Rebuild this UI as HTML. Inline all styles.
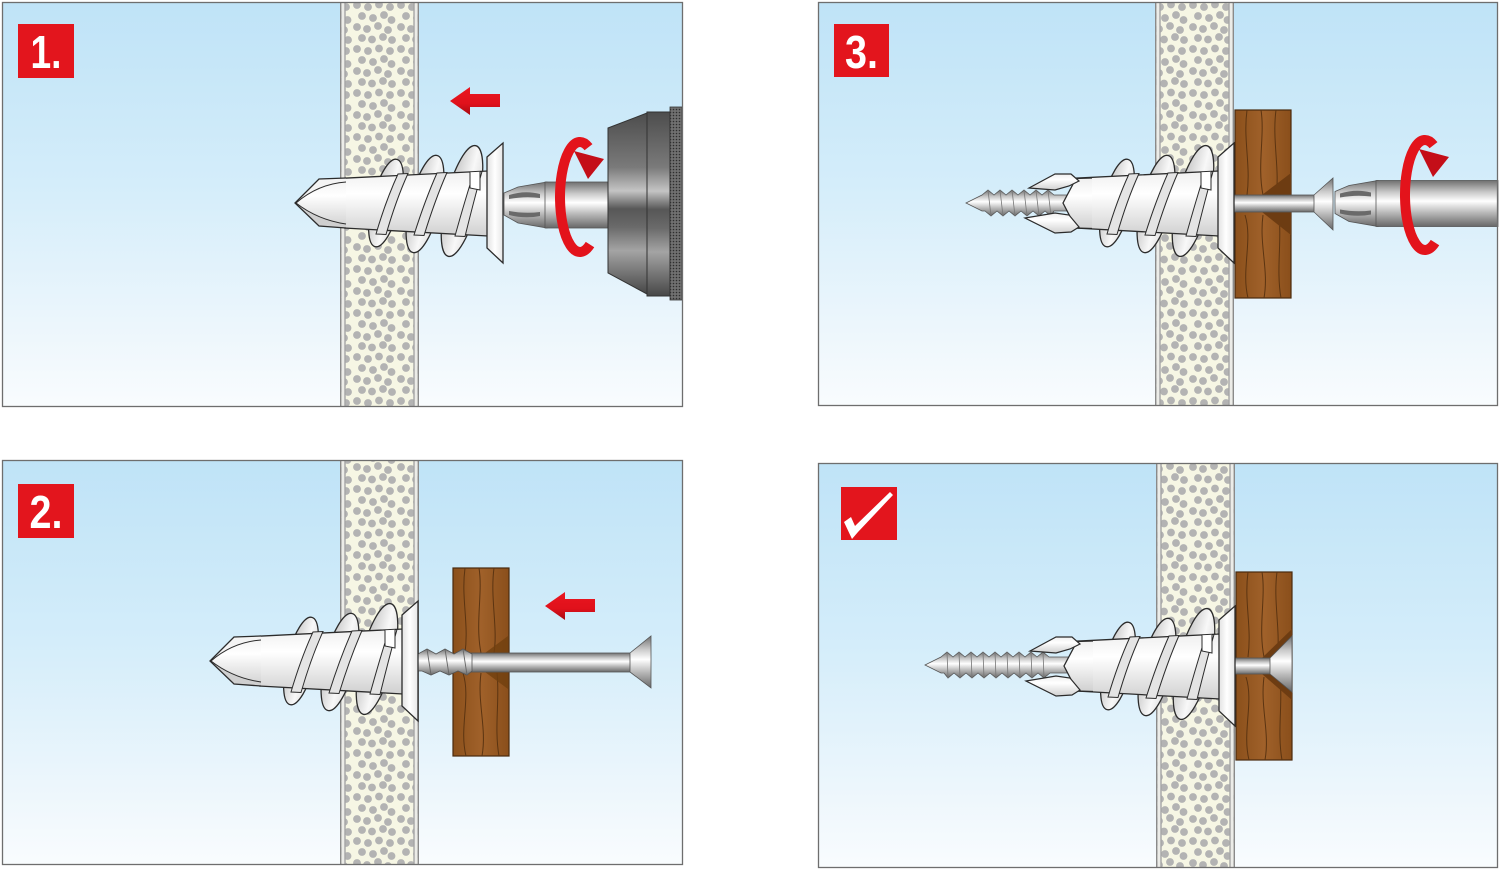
<!DOCTYPE html>
<html><head><meta charset="utf-8"><style>html,body{margin:0;padding:0;background:#fff;width:1500px;height:870px;overflow:hidden}svg{display:block}</style></head>
<body>
<svg width="1500" height="870" viewBox="0 0 1500 870" xmlns="http://www.w3.org/2000/svg" xmlns:xlink="http://www.w3.org/1999/xlink">
<defs>
<linearGradient id="bg" x1="0" y1="0" x2="0" y2="1"><stop offset="0" stop-color="#bfe3f7"/><stop offset="0.45" stop-color="#d4edfa"/><stop offset="0.8" stop-color="#ecf6fc"/><stop offset="1" stop-color="#f9fcfe"/></linearGradient>
<pattern id="dots" width="44" height="44" patternUnits="userSpaceOnUse"><rect width="44" height="44" fill="#f6f6e4"/><g fill="#b3b3b3"><circle cx="5" cy="5" r="3.9"/><circle cx="16" cy="7" r="3.9"/><circle cx="27" cy="4.5" r="3.9"/><circle cx="38" cy="7" r="3.9"/><circle cx="10" cy="16" r="3.9"/><circle cx="21" cy="18" r="3.9"/><circle cx="32" cy="15" r="3.9"/><circle cx="39.5" cy="20" r="3.9"/><circle cx="5" cy="27" r="3.9"/><circle cx="15" cy="29" r="3.9"/><circle cx="26" cy="26" r="3.9"/><circle cx="36" cy="30" r="3.9"/><circle cx="10" cy="38" r="3.9"/><circle cx="20" cy="39.5" r="3.9"/><circle cx="31" cy="37" r="3.9"/><circle cx="40" cy="40" r="3.9"/></g></pattern>
<pattern id="knurl" width="3" height="3" patternUnits="userSpaceOnUse"><rect width="3" height="3" fill="#707070"/><circle cx="1.5" cy="1.5" r="0.8" fill="#2e2e2e"/></pattern>
<linearGradient id="metal" x1="0" y1="0" x2="0" y2="1"><stop offset="0" stop-color="#707070"/><stop offset="0.25" stop-color="#c8c8c8"/><stop offset="0.45" stop-color="#ffffff"/><stop offset="0.7" stop-color="#b8b8b8"/><stop offset="1" stop-color="#686868"/></linearGradient>
<linearGradient id="chuck" x1="0" y1="0" x2="0" y2="1"><stop offset="0" stop-color="#4d4d4d"/><stop offset="0.3" stop-color="#7a7a7a"/><stop offset="0.43" stop-color="#c4c4c4"/><stop offset="0.53" stop-color="#575757"/><stop offset="0.63" stop-color="#6a6a6a"/><stop offset="0.76" stop-color="#a4a4a4"/><stop offset="1" stop-color="#474747"/></linearGradient>
<linearGradient id="pl" x1="0" y1="0" x2="0" y2="1"><stop offset="0" stop-color="#efefef"/><stop offset="0.35" stop-color="#ffffff"/><stop offset="1" stop-color="#d0d0d0"/></linearGradient>
<linearGradient id="pl2" x1="0" y1="0" x2="1" y2="0"><stop offset="0" stop-color="#e2e2e2"/><stop offset="0.5" stop-color="#ffffff"/><stop offset="1" stop-color="#e6e6e6"/></linearGradient>
<linearGradient id="dk" x1="0" y1="0" x2="1" y2="0"><stop offset="0" stop-color="#c6c6c6"/><stop offset="0.6" stop-color="#f8f8f8"/><stop offset="1" stop-color="#dedede"/></linearGradient>
<linearGradient id="wd" x1="0" y1="0" x2="1" y2="0"><stop offset="0" stop-color="#8b501b"/><stop offset="0.5" stop-color="#a0612a"/><stop offset="1" stop-color="#8a4f1b"/></linearGradient>
<linearGradient id="rd" x1="0" y1="0" x2="0" y2="1"><stop offset="0" stop-color="#ea1620"/><stop offset="0.6" stop-color="#e0111b"/><stop offset="1" stop-color="#a50b13"/></linearGradient>

<g id="dback">
 <ellipse cx="386" cy="203" rx="14" ry="45" transform="rotate(14 386 203)" fill="url(#dk)" stroke="#2b2b2b" stroke-width="1.3"/>
 <ellipse cx="425" cy="204" rx="15" ry="50" transform="rotate(14 425 204)" fill="url(#dk)" stroke="#2b2b2b" stroke-width="1.3"/>
 <ellipse cx="462" cy="201" rx="16" ry="57" transform="rotate(14 462 201)" fill="url(#dk)" stroke="#2b2b2b" stroke-width="1.3"/>
 <path d="M344,178.2 L488,171 L488,236 L344,228 Z" fill="url(#pl)"/>
 <path d="M344,178.2 L488,171 M344,228 L488,236" fill="none" stroke="#2b2b2b" stroke-width="1.3"/>
 <path d="M398,174 Q386,200 376,234 L386,234.5 Q396,200 408,173.5 Z" fill="#e4e4e4" stroke="#2b2b2b" stroke-width="1"/>
 <path d="M437,173 Q425,200 414,235 L424,235.5 Q435,200 447,172.5 Z" fill="#e4e4e4" stroke="#2b2b2b" stroke-width="1"/>
 <path d="M474,172 Q465,200 455,236 L465,236.5 Q474,200 482,171.5 Z" fill="#e4e4e4" stroke="#2b2b2b" stroke-width="1"/>
 <path d="M470,172.3 L470,188 L480,190 L480,171.8" fill="#fff" stroke="#2b2b2b" stroke-width="1"/>
 <path d="M487,157 L503,143 L503,263 L487,248 Z" fill="url(#pl2)" stroke="#2b2b2b" stroke-width="1.3"/>
</g>
<g id="dtip">
 <path d="M346,178 L319,179 L295,203 L319,226 L346,228 Z" fill="url(#pl)"/>
 <path d="M319,179 L346,178 L346,182 Q318,184 296,203 Z" fill="#f4f4f4"/>
 <path d="M296,203 Q318,220 346,224 L346,228 L319,226 Z" fill="#cfcfcf"/>
 <path d="M346,178 L319,179 L295,203 L319,226 L346,228" fill="none" stroke="#2b2b2b" stroke-width="1.3"/>
 <path d="M296,203 Q318,184 346,182 M296,203 Q318,220 346,224" fill="none" stroke="#2b2b2b" stroke-width="1"/>
</g>
<g id="wood">
 <rect x="0" y="0" width="56" height="188" fill="url(#wd)" stroke="#4a2a0e" stroke-width="1.2"/>
 <g fill="none" stroke="#5b3411" stroke-width="1">
  <path d="M12,0 C8,30 16,55 12,85"/><path d="M26,0 C30,25 22,55 28,85"/><path d="M41,0 C37,30 45,60 41,85"/>
  <path d="M10,105 C18,130 6,160 13,188"/><path d="M28,105 C24,135 34,160 29,188"/><path d="M44,105 C47,130 41,160 46,188"/>
 </g>
</g>
<g id="bit">
 <polygon points="504,193 518,187 547,182 547,228 518,223 504,215" fill="url(#metal)" stroke="#555" stroke-width="0.8"/>
 <path d="M509,195 Q525,190 540,194 L540,198 Q525,196 509,199 Z" fill="#6a6a6a"/>
 <path d="M509,211 Q525,214 540,212 L540,216 Q525,219 509,215 Z" fill="#6a6a6a"/>
</g>
<g id="ring">
 <path d="M588.5,147.2 A20,55 0 1 0 590,244.6" fill="none" stroke="#e3131b" stroke-width="10"/>
 <polygon points="574,151 604,159 588,179" fill="#c40e18"/>
</g>
<g id="front3">
 <path d="M1092,178 L1076,178.5 L1063,203 L1076,228 L1092,228.5 Z" fill="url(#pl)"/>
 <path d="M1092,178 L1076,178.5 L1063,203 L1076,228 L1092,228.5" fill="none" stroke="#2b2b2b" stroke-width="1.3"/>
 <polygon points="1029,188 1055,174 1071,174 1079,181 1069,186 1055,190" fill="url(#pl)" stroke="#2b2b2b" stroke-width="1.2"/>
 <polygon points="1025,218 1055,213 1069,215 1079,227 1071,232 1055,233" fill="url(#pl)" stroke="#2b2b2b" stroke-width="1.2"/>
</g>
</defs>

<!-- PANEL 1 -->
<rect x="2.5" y="2.5" width="680" height="404" fill="url(#bg)"/>
<rect x="340" y="2.5" width="79" height="404" fill="url(#dots)"/>
<rect x="341.5" y="2.5" width="3" height="404" fill="#ecece8"/><rect x="414.5" y="2.5" width="3" height="404" fill="#ecece8"/>
<g stroke-width="1.4"><line x1="340.7" y1="2.5" x2="340.7" y2="406.5" stroke="#8a8a8a"/><line x1="345" y1="2.5" x2="345" y2="406.5" stroke="#a5a5a5"/><line x1="414" y1="2.5" x2="414" y2="406.5" stroke="#a5a5a5"/><line x1="418.3" y1="2.5" x2="418.3" y2="406.5" stroke="#8a8a8a"/></g>
<polygon points="450,101 470,87 470,94 500,94 500,107 470,107 470,115" fill="url(#rd)"/>
<use xlink:href="#dback"/><use xlink:href="#dtip"/>
<use xlink:href="#bit"/>
<rect x="545" y="182" width="65" height="46" fill="url(#metal)" stroke="#555" stroke-width="0.8"/>
<polygon points="608,128 647,113 647,294 608,273" fill="url(#chuck)" stroke="#333" stroke-width="1"/>
<rect x="647" y="112" width="23" height="184" fill="url(#chuck)" stroke="#333" stroke-width="1"/>
<rect x="670" y="107" width="12" height="193" fill="url(#knurl)" stroke="#333" stroke-width="0.8"/>
<use xlink:href="#ring"/>
<rect x="18" y="24" width="56" height="54" fill="#e3151d"/>
<text x="46" y="68" font-family="Liberation Sans, Arial, sans-serif" font-weight="bold" font-size="46" fill="#fff" text-anchor="middle" textLength="31" lengthAdjust="spacingAndGlyphs">1.</text>
<rect x="2.5" y="2.5" width="680" height="404" fill="none" stroke="#6e6e6e" stroke-width="1.3"/>

<!-- PANEL 3 -->
<rect x="818.5" y="2.5" width="679" height="403" fill="url(#bg)"/>
<rect x="1155" y="2.5" width="79" height="403" fill="url(#dots)"/>
<rect x="1156.5" y="2.5" width="3" height="403" fill="#ecece8"/><rect x="1229.5" y="2.5" width="3" height="403" fill="#ecece8"/>
<g stroke-width="1.4"><line x1="1155.7" y1="2.5" x2="1155.7" y2="405.5" stroke="#8a8a8a"/><line x1="1160" y1="2.5" x2="1160" y2="405.5" stroke="#a5a5a5"/><line x1="1229" y1="2.5" x2="1229" y2="405.5" stroke="#a5a5a5"/><line x1="1233.3" y1="2.5" x2="1233.3" y2="405.5" stroke="#8a8a8a"/></g>
<use xlink:href="#wood" transform="translate(1235,110)"/>
<polygon points="1262,195 1291,173 1291,235 1262,212" fill="#6d3c12"/>
<rect x="1234" y="195" width="82" height="17" fill="url(#metal)" stroke="#555" stroke-width="0.8"/>
<polygon points="1314,195 1333,178 1333,230 1314,212" fill="url(#metal)" stroke="#555" stroke-width="0.8"/>
<use xlink:href="#bit" transform="translate(831,-1.5)"/>
<rect x="1376" y="180.5" width="122" height="46" fill="url(#metal)" stroke="#555" stroke-width="0.8"/>
<path d="M966,203 L982,195 L988,190 L994,195 L1000,190 L1006,195 L1012,190 L1018,195 L1024,190 L1030,195 L1036,190 L1042,195 L1048,190 L1054,195 L1070,195 L1070,211 L1054,211 L1051,216 L1045,211 L1039,216 L1033,211 L1027,216 L1021,211 L1015,216 L1009,211 L1003,216 L997,211 L991,216 L985,211 L982,211 Z" fill="url(#metal)" stroke="#555" stroke-width="0.8"/>
<g stroke="#777" stroke-width="0.8"><line x1="988" y1="190" x2="991" y2="216"/><line x1="1000" y1="190" x2="1003" y2="216"/><line x1="1012" y1="190" x2="1015" y2="216"/><line x1="1024" y1="190" x2="1027" y2="216"/><line x1="1036" y1="190" x2="1039" y2="216"/><line x1="1048" y1="190" x2="1051" y2="216"/></g>
<use xlink:href="#dback" transform="translate(731,0)"/>
<use xlink:href="#front3"/>
<use xlink:href="#ring" transform="translate(845,-2)"/>
<rect x="834" y="24" width="55" height="53" fill="#e3151d"/>
<text x="861.5" y="68" font-family="Liberation Sans, Arial, sans-serif" font-weight="bold" font-size="46" fill="#fff" text-anchor="middle" textLength="33" lengthAdjust="spacingAndGlyphs">3.</text>
<rect x="818.5" y="2.5" width="679" height="403" fill="none" stroke="#6e6e6e" stroke-width="1.3"/>

<!-- PANEL 2 -->
<rect x="2.5" y="460.5" width="680" height="404" fill="url(#bg)"/>
<rect x="340" y="460.5" width="79" height="404" fill="url(#dots)"/>
<rect x="341.5" y="460.5" width="3" height="404" fill="#ecece8"/><rect x="414.5" y="460.5" width="3" height="404" fill="#ecece8"/>
<g stroke-width="1.4"><line x1="340.7" y1="460.5" x2="340.7" y2="864.5" stroke="#8a8a8a"/><line x1="345" y1="460.5" x2="345" y2="864.5" stroke="#a5a5a5"/><line x1="414" y1="460.5" x2="414" y2="864.5" stroke="#a5a5a5"/><line x1="418.3" y1="460.5" x2="418.3" y2="864.5" stroke="#8a8a8a"/></g>
<use xlink:href="#wood" transform="translate(453,568)"/>
<polygon points="485,653 508,636 508,689 485,672" fill="#70400f" opacity="0.8"/>
<rect x="468" y="653" width="163" height="19" fill="url(#metal)" stroke="#555" stroke-width="0.8"/>
<polygon points="630,653 651,636 651,688 630,672" fill="url(#metal)" stroke="#555" stroke-width="0.8"/>
<path d="M412,654 L418,654 L427,649 L436,654 L445,649 L454,654 L463,649 L472,654 L472,671 L467,675 L458,671 L449,675 L440,671 L431,675 L422,671 L412,671 Z" fill="url(#metal)" stroke="#555" stroke-width="0.8"/>
<g stroke="#666" stroke-width="0.9"><line x1="427" y1="649" x2="431" y2="675"/><line x1="445" y1="649" x2="449" y2="675"/><line x1="463" y1="649" x2="467" y2="675"/></g>
<use xlink:href="#dback" transform="translate(-85,458)"/><use xlink:href="#dtip" transform="translate(-85,458)"/>
<polygon points="450,101 470,87 470,94 500,94 500,107 470,107 470,115" fill="url(#rd)" transform="translate(95,505)"/>
<rect x="18" y="484" width="56" height="54" fill="#e3151d"/>
<text x="46" y="528" font-family="Liberation Sans, Arial, sans-serif" font-weight="bold" font-size="46" fill="#fff" text-anchor="middle" textLength="33" lengthAdjust="spacingAndGlyphs">2.</text>
<rect x="2.5" y="460.5" width="680" height="404" fill="none" stroke="#6e6e6e" stroke-width="1.3"/>

<!-- PANEL 4 -->
<rect x="818.5" y="463.5" width="679" height="404" fill="url(#bg)"/>
<rect x="1156" y="463.5" width="79" height="404" fill="url(#dots)"/>
<rect x="1157.5" y="463.5" width="3" height="404" fill="#ecece8"/><rect x="1230.5" y="463.5" width="3" height="404" fill="#ecece8"/>
<g stroke-width="1.4"><line x1="1156.7" y1="463.5" x2="1156.7" y2="867.5" stroke="#8a8a8a"/><line x1="1161" y1="463.5" x2="1161" y2="867.5" stroke="#a5a5a5"/><line x1="1230" y1="463.5" x2="1230" y2="867.5" stroke="#a5a5a5"/><line x1="1234.3" y1="463.5" x2="1234.3" y2="867.5" stroke="#8a8a8a"/></g>
<use xlink:href="#wood" transform="translate(1236,572)"/>
<polygon points="1262,658 1292,629 1292,700 1262,674" fill="#6d3c12"/>
<rect x="1234" y="658" width="38" height="16" fill="url(#metal)" stroke="#555" stroke-width="0.8"/>
<polygon points="1270,658 1292,636 1292,692 1270,674" fill="url(#metal)" stroke="#555" stroke-width="0.8"/>
<g transform="translate(0,1)">
<path d="M925,664 L941,656 L947,651 L953,656 L959,651 L965,656 L971,651 L977,656 L983,651 L989,656 L995,651 L1001,656 L1007,651 L1013,656 L1019,651 L1025,656 L1031,651 L1037,656 L1043,651 L1049,656 L1070,656 L1070,672 L1050,672 L1044,677 L1038,672 L1032,677 L1026,672 L1020,677 L1014,672 L1008,677 L1002,672 L996,677 L990,672 L984,677 L978,672 L972,677 L966,672 L960,677 L954,672 L948,677 L944,672 L941,672 Z" fill="url(#metal)" stroke="#555" stroke-width="0.8"/>
<g stroke="#777" stroke-width="0.8"><line x1="947" y1="651" x2="948" y2="677"/><line x1="959" y1="651" x2="960" y2="677"/><line x1="971" y1="651" x2="972" y2="677"/><line x1="983" y1="651" x2="984" y2="677"/><line x1="995" y1="651" x2="996" y2="677"/><line x1="1007" y1="651" x2="1008" y2="677"/><line x1="1019" y1="651" x2="1020" y2="677"/><line x1="1031" y1="651" x2="1032" y2="677"/><line x1="1043" y1="651" x2="1044" y2="677"/></g>
</g>
<use xlink:href="#dback" transform="translate(732,463)"/>
<use xlink:href="#front3" transform="translate(1,463)"/>
<rect x="841" y="487" width="56" height="53" fill="#e3151d"/>
<polygon points="844,522 851,517 855,526 890,492 893,495 858,532 852,539" fill="#fff"/>
<rect x="818.5" y="463.5" width="679" height="404" fill="none" stroke="#6e6e6e" stroke-width="1.3"/>
</svg>
</body></html>
